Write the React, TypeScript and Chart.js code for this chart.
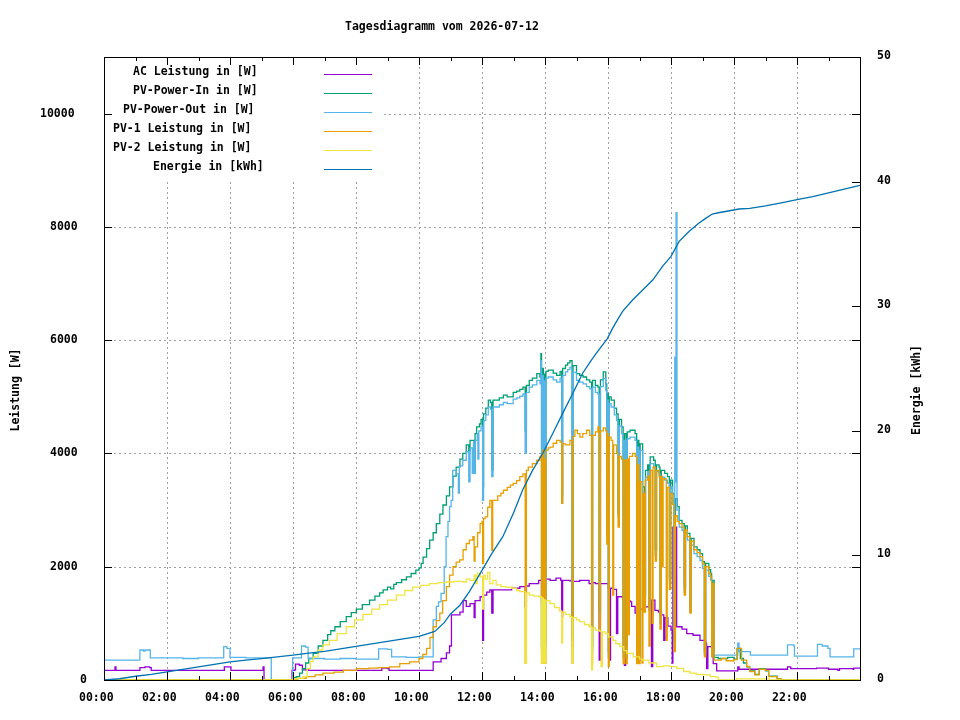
import React, { useEffect, useRef } from 'react';
import { Chart, registerables } from 'chart.js';

Chart.register(...registerables);

type Pt = [number, number];

// time in hours, value in W (or kWh for the energy curve)
const acPower: Pt[] = [
  [0, 170], [0.33, 170], [0.35, 230], [0.38, 170], [1.12, 170], [1.14, 220], [1.3, 230], [1.45, 220], [1.5, 170],
  [3.8, 170], [3.82, 230], [4.0, 230], [4.03, 170], [5.03, 170], [5.05, 230], [5.08, 0], [5.95, 0], [5.97, 170],
  [6.05, 180], [6.08, 280], [6.2, 260], [6.3, 180], [6.5, 170], [8.8, 170], [8.82, 210], [9.0, 200], [9.05, 170],
  [10.42, 170], [10.45, 320], [10.7, 380], [10.87, 480], [10.97, 600], [11.03, 1150], [11.15, 1150], [11.3, 1200],
  [11.4, 1400], [11.5, 1300], [11.62, 1350], [11.75, 1100], [11.78, 1400], [11.94, 1470], [12.02, 700], [12.05, 1500],
  [12.15, 1550], [12.25, 1590], [12.31, 1180], [12.35, 1590], [12.6, 1590], [12.94, 1620], [13.2, 1650], [13.37, 1300],
  [13.41, 1660], [13.5, 1700], [13.8, 1760], [13.89, 1350], [13.92, 1800], [13.95, 1350], [13.98, 1780], [14.16, 1760],
  [14.35, 1800], [14.5, 1760], [14.53, 1120], [14.56, 1760], [14.79, 1750], [14.86, 760], [14.89, 1740], [15.1, 1760],
  [15.4, 1700], [15.48, 900], [15.51, 1720], [15.6, 1700], [15.72, 350], [15.76, 1700], [15.9, 1700], [16.01, 1620],
  [16.05, 350], [16.08, 1620], [16.16, 1600], [16.27, 820], [16.31, 1470], [16.38, 1470], [16.48, 1410], [16.52, 260],
  [16.56, 1400], [16.7, 1380], [16.75, 1300], [16.86, 1180], [16.91, 350], [16.98, 350], [17.02, 1250], [17.1, 1290],
  [17.26, 1290], [17.33, 1410], [17.38, 235], [17.42, 1410], [17.49, 1230], [17.6, 1200], [17.7, 1150], [17.77, 700],
  [17.81, 1100], [17.9, 950], [18.0, 880], [18.04, 300], [18.06, 2700], [18.18, 940], [18.35, 900], [18.5, 820],
  [18.7, 790], [18.92, 700], [19.1, 650], [19.13, 200], [19.17, 590], [19.34, 290], [19.45, 160], [20.1, 160],
  [20.12, 230], [20.16, 190], [21.68, 190], [21.7, 230], [21.8, 200], [22.6, 200], [22.62, 210], [23.0, 190],
  [23.3, 170], [23.35, 200], [23.78, 190], [23.8, 210], [24, 210],
];

const pvPowerIn: Pt[] = [
  [0, 0], [5.95, 0], [6.0, 40], [6.1, 60], [6.21, 120], [6.3, 200], [6.4, 300], [6.5, 380], [6.64, 470], [6.8, 600],
  [6.95, 700], [7.1, 800], [7.2, 870], [7.33, 940], [7.5, 1030], [7.69, 1120], [7.85, 1190], [8.01, 1250], [8.2, 1330],
  [8.43, 1410], [8.6, 1480], [8.75, 1540], [8.86, 1590], [9.0, 1640], [9.1, 1610], [9.2, 1690], [9.28, 1720],
  [9.45, 1770], [9.6, 1820], [9.75, 1880], [9.9, 1940], [10.0, 1980], [10.07, 2060], [10.13, 2170], [10.24, 2320],
  [10.34, 2470], [10.45, 2600], [10.55, 2760], [10.66, 2930], [10.76, 3090], [10.87, 3250], [10.97, 3410], [11.08, 3600],
  [11.18, 3760], [11.3, 3900], [11.39, 4000], [11.5, 4150], [11.58, 4050], [11.62, 4230], [11.75, 3650], [11.78, 4350],
  [11.83, 4470], [11.92, 4520], [11.97, 4600], [12.02, 3400], [12.05, 4700], [12.12, 4800], [12.2, 4940], [12.27, 4900],
  [12.31, 3700], [12.35, 4940], [12.46, 4940], [12.55, 4980], [12.68, 5030], [12.8, 5000], [12.99, 5080], [13.1, 5100],
  [13.2, 5130], [13.3, 5170], [13.37, 4400], [13.41, 5200], [13.5, 5290], [13.6, 5330], [13.74, 5410], [13.84, 5350],
  [13.87, 5760], [13.89, 600], [13.92, 5500], [13.95, 600], [13.98, 5400], [14.0, 700], [14.03, 5450], [14.1, 5470],
  [14.16, 5470], [14.26, 5420], [14.37, 5380], [14.48, 5450], [14.53, 3250], [14.56, 5500], [14.65, 5560], [14.72, 5600],
  [14.79, 5640], [14.86, 700], [14.89, 5550], [15.0, 5410], [15.1, 5380], [15.21, 5350], [15.32, 5300], [15.42, 5260],
  [15.48, 600], [15.51, 5290], [15.6, 5200], [15.68, 5170], [15.72, 1200], [15.76, 5300], [15.85, 5440], [15.93, 5230],
  [15.96, 2600], [15.99, 5060], [16.01, 500], [16.04, 5000], [16.1, 4940], [16.2, 4800], [16.27, 4700], [16.32, 2950],
  [16.36, 4600], [16.43, 4470], [16.48, 500], [16.52, 4350], [16.57, 500], [16.61, 4380], [16.7, 4410], [16.78, 4410],
  [16.86, 4350], [16.91, 500], [16.95, 4230], [16.98, 500], [17.02, 4170], [17.1, 3410], [17.15, 1500], [17.19, 3700],
  [17.26, 3800], [17.3, 1300], [17.34, 3940], [17.45, 3880], [17.5, 2300], [17.54, 3800], [17.62, 3760], [17.65, 1100],
  [17.69, 3700], [17.8, 3650], [17.89, 3590], [17.95, 1800], [17.99, 3530], [18.05, 3290], [18.1, 700], [18.14, 3200],
  [18.2, 3060], [18.26, 2820], [18.35, 2760], [18.42, 1650], [18.46, 2720], [18.52, 2590], [18.6, 1300], [18.64, 2500],
  [18.73, 2350], [18.83, 2300], [18.92, 2230], [19.0, 2090], [19.06, 500], [19.1, 2060], [19.2, 1950], [19.26, 1880],
  [19.29, 500], [19.32, 1760], [19.37, 400], [19.5, 380], [19.8, 400], [20.0, 370], [20.1, 560], [20.2, 380],
  [20.3, 300], [20.4, 230], [20.5, 160], [20.66, 100], [20.8, 200], [21.0, 160], [21.1, 70], [21.37, 20], [21.5, 0],
  [24, 0],
];

const pvPowerOut: Pt[] = [
  [0, 350], [1.12, 350], [1.14, 530], [1.25, 510], [1.3, 530], [1.45, 530], [1.47, 390], [2.5, 380], [3.0, 390],
  [3.78, 390], [3.8, 590], [3.9, 560], [4.0, 400], [4.5, 390], [5.0, 390], [5.31, 0], [5.98, 0], [5.99, 390],
  [6.26, 390], [6.27, 600], [6.4, 580], [6.48, 380], [7.0, 370], [7.5, 380], [8.0, 370], [8.7, 370], [8.72, 550],
  [9.0, 540], [9.13, 410], [9.6, 400], [10.0, 410], [10.42, 410], [10.45, 1060], [10.55, 1300], [10.62, 1380],
  [10.7, 1530], [10.8, 2000], [10.86, 2530], [10.92, 2800], [10.97, 3060], [11.02, 3170], [11.07, 3700], [11.18, 3640],
  [11.25, 3300], [11.28, 3780], [11.39, 3880], [11.5, 4030], [11.58, 3500], [11.62, 4100], [11.69, 3650], [11.73, 4200],
  [11.75, 3650], [11.78, 4230], [11.85, 4350], [11.87, 3900], [11.9, 4400], [11.97, 4480], [12.02, 3170], [12.05, 4580],
  [12.12, 4680], [12.2, 4820], [12.27, 4780], [12.31, 3590], [12.35, 4820], [12.46, 4820], [12.55, 4860], [12.68, 4900],
  [12.8, 4880], [12.99, 4960], [13.1, 4980], [13.2, 5010], [13.3, 5050], [13.37, 4000], [13.41, 5080], [13.5, 5170],
  [13.6, 5210], [13.74, 5290], [13.84, 5230], [13.87, 5640], [13.89, 500], [13.92, 5380], [13.95, 500], [13.98, 5280],
  [14.0, 600], [14.03, 5330], [14.1, 5350], [14.16, 5350], [14.26, 5300], [14.37, 5260], [14.48, 5330], [14.53, 3120],
  [14.56, 5380], [14.65, 5440], [14.72, 5480], [14.79, 5520], [14.86, 600], [14.89, 5430], [15.0, 5290], [15.1, 5260],
  [15.21, 5230], [15.32, 5180], [15.42, 5140], [15.48, 500], [15.51, 5170], [15.6, 5080], [15.68, 5050], [15.72, 1090],
  [15.76, 5180], [15.85, 5320], [15.93, 5110], [15.96, 2530], [15.99, 4940], [16.01, 400], [16.04, 4880], [16.1, 4820],
  [16.2, 4680], [16.27, 4580], [16.32, 2880], [16.36, 4480], [16.43, 4350], [16.48, 400], [16.52, 4230], [16.57, 400],
  [16.61, 4260], [16.7, 4290], [16.78, 4290], [16.86, 4230], [16.91, 400], [16.95, 4110], [16.98, 400], [17.02, 4050],
  [17.1, 3300], [17.15, 1400], [17.19, 3580], [17.26, 3680], [17.3, 1230], [17.34, 3820], [17.45, 3760], [17.5, 2200],
  [17.54, 3680], [17.62, 3640], [17.65, 1000], [17.69, 3580], [17.8, 3530], [17.89, 3470], [17.95, 1700], [17.99, 3410],
  [18.05, 3170], [18.1, 600], [18.12, 5700], [18.14, 3500], [18.16, 8250], [18.19, 3000], [18.26, 2700], [18.35, 2640],
  [18.42, 1550], [18.46, 2600], [18.52, 2470], [18.6, 1200], [18.64, 2380], [18.73, 2230], [18.83, 2180], [18.92, 2110],
  [19.0, 1970], [19.06, 450], [19.1, 1940], [19.2, 1830], [19.26, 1760], [19.29, 450], [19.32, 1640], [19.37, 440],
  [20.1, 440], [20.12, 650], [20.16, 500], [20.5, 500], [20.52, 440], [21.68, 440], [21.7, 620], [21.9, 600],
  [21.92, 420], [22.63, 420], [22.65, 630], [22.8, 600], [22.98, 560], [23.05, 410], [23.78, 410], [23.8, 550], [24, 550],
];

const pv1Power: Pt[] = [
  [0, 0], [6.1, 0], [6.15, 30], [6.42, 60], [6.7, 90], [6.95, 120], [7.3, 140], [7.6, 170], [8.01, 200], [8.4, 210],
  [8.7, 220], [9.07, 230], [9.39, 290], [9.7, 320], [10.0, 380], [10.12, 450], [10.24, 560], [10.35, 750], [10.45, 940],
  [10.55, 1050], [10.66, 1180], [10.75, 1400], [10.87, 1650], [10.97, 1850], [11.08, 2000], [11.18, 2080], [11.29, 2120],
  [11.4, 2300], [11.5, 2410], [11.6, 2470], [11.71, 2530], [11.75, 2100], [11.78, 2350], [11.86, 2600], [11.94, 2760],
  [12.0, 2800], [12.02, 2060], [12.05, 2850], [12.1, 2880], [12.18, 3050], [12.25, 3170], [12.31, 2290], [12.34, 3170],
  [12.41, 3170], [12.5, 3250], [12.6, 3300], [12.68, 3350], [12.8, 3400], [12.9, 3440], [12.99, 3470], [13.1, 3520],
  [13.2, 3590], [13.3, 3640], [13.37, 300], [13.41, 3700], [13.47, 3760], [13.6, 3820], [13.74, 3880], [13.84, 3950],
  [13.89, 300], [13.92, 4060], [13.95, 300], [13.98, 3900], [14.0, 300], [14.03, 4060], [14.1, 4100], [14.16, 4110],
  [14.26, 4180], [14.37, 4230], [14.48, 4200], [14.53, 3120], [14.56, 4170], [14.65, 4150], [14.79, 4230], [14.86, 300],
  [14.89, 4300], [14.95, 4410], [15.03, 4350], [15.11, 4290], [15.2, 4350], [15.32, 4410], [15.42, 4320], [15.48, 300],
  [15.51, 4320], [15.6, 4380], [15.68, 4470], [15.72, 880], [15.76, 4400], [15.85, 4450], [15.93, 4400], [15.96, 2400],
  [15.99, 4350], [16.01, 235], [16.04, 4290], [16.1, 4230], [16.15, 1500], [16.18, 4150], [16.27, 4000], [16.32, 2700],
  [16.36, 3950], [16.43, 3900], [16.48, 290], [16.52, 3880], [16.57, 290], [16.61, 3900], [16.65, 800], [16.68, 3950],
  [16.78, 4000], [16.86, 3950], [16.91, 290], [16.95, 3800], [16.98, 290], [17.02, 3500], [17.08, 300], [17.11, 3290],
  [17.15, 1200], [17.19, 3530], [17.26, 3600], [17.3, 600], [17.34, 3700], [17.4, 1000], [17.43, 3760], [17.5, 2100],
  [17.54, 3700], [17.62, 3590], [17.65, 900], [17.69, 3600], [17.72, 2000], [17.75, 3550], [17.85, 700], [17.88, 3400],
  [17.95, 1600], [17.99, 3290], [18.05, 3100], [18.1, 500], [18.14, 2900], [18.2, 2800], [18.26, 2760], [18.35, 2700],
  [18.42, 1500], [18.46, 2650], [18.52, 2530], [18.6, 1180], [18.64, 2450], [18.73, 2300], [18.83, 2250], [18.92, 2180],
  [19.0, 2050], [19.06, 410], [19.1, 2000], [19.2, 1880], [19.26, 1820], [19.29, 410], [19.32, 1700], [19.37, 350],
  [19.6, 380], [19.75, 340], [20.0, 360], [20.1, 560], [20.24, 350], [20.4, 240], [20.5, 150], [20.66, 90], [20.8, 190],
  [21.0, 170], [21.1, 60], [21.37, 20], [21.5, 0], [24, 0],
];

const pv2Power: Pt[] = [
  [0, 0], [5.98, 0], [6.0, 20], [6.15, 30], [6.32, 60], [6.45, 200], [6.55, 330], [6.64, 410], [6.8, 530], [6.95, 620],
  [7.16, 700], [7.4, 820], [7.69, 940], [7.95, 1060], [8.22, 1160], [8.5, 1250], [8.75, 1330], [9.0, 1410], [9.28, 1500],
  [9.55, 1580], [9.8, 1640], [10.05, 1670], [10.33, 1700], [10.6, 1720], [10.86, 1730], [11.1, 1740], [11.39, 1730],
  [11.5, 1780], [11.62, 1760], [11.75, 1850], [11.8, 1700], [11.85, 1880], [11.94, 1820], [12.02, 1250], [12.05, 1850],
  [12.1, 1780], [12.18, 1900], [12.25, 1700], [12.35, 1760], [12.45, 1680], [12.6, 1650], [12.75, 1640], [12.94, 1620],
  [13.1, 1580], [13.2, 1560], [13.37, 300], [13.41, 1540], [13.5, 1500], [13.65, 1480], [13.8, 1470], [13.89, 300],
  [13.92, 1450], [13.95, 300], [13.98, 1420], [14.0, 300], [14.03, 1400], [14.16, 1350], [14.3, 1280], [14.45, 1220],
  [14.53, 650], [14.56, 1200], [14.65, 1160], [14.79, 1120], [14.86, 300], [14.89, 1100], [15.0, 1060], [15.1, 1030],
  [15.25, 980], [15.4, 940], [15.48, 180], [15.51, 920], [15.6, 880], [15.74, 860], [15.78, 235], [15.82, 850],
  [15.92, 820], [16.01, 760], [16.16, 700], [16.25, 640], [16.38, 590], [16.5, 520], [16.6, 470], [16.8, 410],
  [17.0, 370], [17.1, 350], [17.3, 300], [17.54, 235], [17.75, 250], [17.97, 235], [18.18, 205], [18.4, 150],
  [18.6, 120], [18.8, 100], [19.03, 90], [19.25, 60], [19.45, 50], [19.5, 0], [20.06, 0], [20.08, 20], [21.1, 20],
  [21.12, 0], [24, 0],
];

const energyKwh: Pt[] = [
  [0, 0], [0.5, 0.1], [1.0, 0.3], [1.5, 0.45], [2.0, 0.65], [2.5, 0.85], [3.0, 1.05], [3.5, 1.25], [4.0, 1.45],
  [4.5, 1.6], [5.0, 1.72], [5.5, 1.85], [6.0, 2.0], [6.5, 2.15], [7.0, 2.3], [7.5, 2.5], [8.0, 2.7], [8.5, 2.9],
  [9.0, 3.1], [9.5, 3.3], [10.0, 3.5], [10.5, 3.9], [10.8, 4.6], [11.0, 5.3], [11.3, 6.0], [11.6, 7.1], [12.0, 8.8],
  [12.3, 10.1], [12.66, 11.5], [13.0, 13.4], [13.29, 15.25], [13.6, 16.8], [13.93, 18.2], [14.25, 19.8], [14.56, 21.4],
  [14.9, 23.1], [15.19, 24.6], [15.45, 25.6], [15.62, 26.2], [15.8, 26.8], [15.98, 27.4], [16.14, 28.2], [16.3, 28.9],
  [16.47, 29.6], [16.78, 30.5], [17.1, 31.3], [17.42, 32.1], [17.73, 33.2], [18.0, 34.0], [18.26, 35.2], [18.57, 36.0],
  [18.88, 36.65], [19.1, 37.05], [19.31, 37.4], [19.5, 37.5], [19.73, 37.6], [20.16, 37.8], [20.5, 37.85], [21.0, 38.05],
  [21.5, 38.3], [22.0, 38.55], [22.5, 38.8], [23.0, 39.1], [23.5, 39.4], [24.0, 39.7],
];

const powerTicks = [0, 2000, 4000, 6000, 8000, 10000];
const energyTicks = [0, 10, 20, 30, 40, 50];
const hourTicks = [0, 2, 4, 6, 8, 10, 12, 14, 16, 18, 20, 22];

const legendRows = [
  { text: 'AC Leistung in [W]', x: 133, color: '#9400d3' },
  { text: 'PV-Power-In in [W]', x: 133, color: '#009e73' },
  { text: 'PV-Power-Out in [W]', x: 123, color: '#56b4e9' },
  { text: 'PV-1 Leistung in [W]', x: 113, color: '#e69f00' },
  { text: 'PV-2 Leistung in [W]', x: 113, color: '#f0e442' },
  { text: 'Energie in [kWh]', x: 153, color: '#0072b2' },
];

const FONT = 'bold 11.5px "DejaVu Sans Mono", monospace';
const LINE_W = 1.3;

const toXY = (pts: Pt[]) => pts.map(([x, y]) => ({ x, y }));

const hourLabel = (h: number) => `${String(h).padStart(2, '0')}:00`;

// gnuplot-like frame: dotted grid, opaque key, inward ticks, labels
const framePlugin = {
  id: 'gnuplotFrame',
  beforeDatasetsDraw(chart: any) {
    const { ctx, chartArea: a, scales } = chart;
    ctx.save();
    ctx.strokeStyle = '#a0a0a0';
    ctx.lineWidth = 1;
    ctx.setLineDash([2, 3]);
    for (let h = 2; h <= 24; h += 2) {
      const x = Math.round(scales.x.getPixelForValue(h)) + 0.5;
      ctx.beginPath();
      ctx.moveTo(x, a.top);
      ctx.lineTo(x, a.bottom);
      ctx.stroke();
    }
    powerTicks.slice(1).forEach((v) => {
      const y = Math.round(scales.y.getPixelForValue(v)) + 0.5;
      ctx.beginPath();
      ctx.moveTo(a.left, y);
      ctx.lineTo(a.right, y);
      ctx.stroke();
    });
    ctx.setLineDash([]);
    ctx.fillStyle = '#ffffff';
    ctx.fillRect(a.left + 1, a.top + 1, 276, 121);
    ctx.restore();
  },
  afterDatasetsDraw(chart: any) {
    const { ctx, chartArea: a, scales } = chart;
    ctx.save();
    ctx.strokeStyle = '#000000';
    ctx.lineWidth = 1;
    ctx.strokeRect(a.left + 0.5, a.top + 0.5, a.right - a.left, a.bottom - a.top);

    ctx.beginPath();
    powerTicks.forEach((v) => {
      const y = Math.round(scales.y.getPixelForValue(v)) + 0.5;
      ctx.moveTo(a.left, y);
      ctx.lineTo(a.left + 8, y);
      ctx.moveTo(a.right - 8, y);
      ctx.lineTo(a.right, y);
    });
    energyTicks.forEach((v) => {
      const y = Math.round(scales.y2.getPixelForValue(v)) + 0.5;
      ctx.moveTo(a.right - 8, y);
      ctx.lineTo(a.right, y);
    });
    for (let h = 0; h <= 24; h++) {
      const x = Math.round(scales.x.getPixelForValue(h)) + 0.5;
      const len = h % 2 === 0 ? 8 : 4;
      ctx.moveTo(x, a.bottom);
      ctx.lineTo(x, a.bottom - len);
      ctx.moveTo(x, a.top);
      ctx.lineTo(x, a.top + len);
    }
    ctx.stroke();

    ctx.fillStyle = '#000000';
    ctx.font = FONT;
    ctx.textAlign = 'left';
    ctx.textBaseline = 'middle';
    powerTicks.forEach((v) => {
      const t = String(v);
      ctx.fillText(t, 90 - 10 * t.length, scales.y.getPixelForValue(v));
    });
    energyTicks.forEach((v) => {
      ctx.fillText(String(v), 877, scales.y2.getPixelForValue(v) - 1);
    });
    hourTicks.forEach((h) => {
      ctx.fillText(hourLabel(h), scales.x.getPixelForValue(h) - 25, 698);
    });

    ctx.fillText('Tagesdiagramm vom 2026-07-12', 345, 27);

    legendRows.forEach((row, i) => {
      const y = 72 + i * 19;
      ctx.fillStyle = '#000000';
      ctx.fillText(row.text, row.x, y);
      ctx.fillStyle = row.color;
      ctx.fillRect(324, y + 2, 48, 1);
    });

    ctx.fillStyle = '#000000';
    ctx.textAlign = 'center';
    ctx.save();
    ctx.translate(16, 390);
    ctx.rotate(-Math.PI / 2);
    ctx.fillText('Leistung [W]', 0, 0);
    ctx.restore();
    ctx.save();
    ctx.translate(917, 390);
    ctx.rotate(-Math.PI / 2);
    ctx.fillText('Energie [kWh]', 0, 0);
    ctx.restore();
    ctx.restore();
  },
};

const line = (label: string, pts: Pt[], color: string, order: number, axis = 'y', stepped = true) => ({
  label,
  data: toXY(pts),
  borderColor: color,
  backgroundColor: color,
  borderWidth: LINE_W,
  pointRadius: 0,
  fill: false,
  stepped,
  yAxisID: axis,
  order,
});

const App: React.FC = () => {
  const canvasRef = useRef<HTMLCanvasElement>(null);
  const chartRef = useRef<Chart | null>(null);

  useEffect(() => {
    if (!canvasRef.current) return;
    if (chartRef.current) chartRef.current.destroy();

    chartRef.current = new Chart(canvasRef.current, {
      type: 'line',
      data: {
        datasets: [
          line('AC Leistung in [W]', acPower, '#9400d3', 5),
          line('PV-Power-In in [W]', pvPowerIn, '#009e73', 4),
          line('PV-Power-Out in [W]', pvPowerOut, '#56b4e9', 3),
          line('PV-1 Leistung in [W]', pv1Power, '#e69f00', 2),
          line('PV-2 Leistung in [W]', pv2Power, '#f0e442', 1),
          line('Energie in [kWh]', energyKwh, '#0072b2', 0, 'y2', false),
        ] as any,
      },
      options: {
        responsive: true,
        maintainAspectRatio: false,
        animation: false,
        events: [],
        layout: { padding: { left: 104, right: 100, top: 57, bottom: 40 } },
        plugins: {
          legend: { display: false },
          tooltip: { enabled: false },
          title: { display: false },
        },
        scales: {
          x: { type: 'linear', min: 0, max: 24, display: false },
          y: { type: 'linear', min: 0, max: 11000, display: false },
          y2: { type: 'linear', min: 0, max: 50, display: false },
        },
      },
      plugins: [framePlugin],
    });

    return () => {
      if (chartRef.current) {
        chartRef.current.destroy();
        chartRef.current = null;
      }
    };
  }, []);

  return (
    <div style={{ position: 'absolute', left: 0, top: 0, width: 960, height: 720, background: '#fff' }}>
      <canvas ref={canvasRef}></canvas>
    </div>
  );
};

export default App;
